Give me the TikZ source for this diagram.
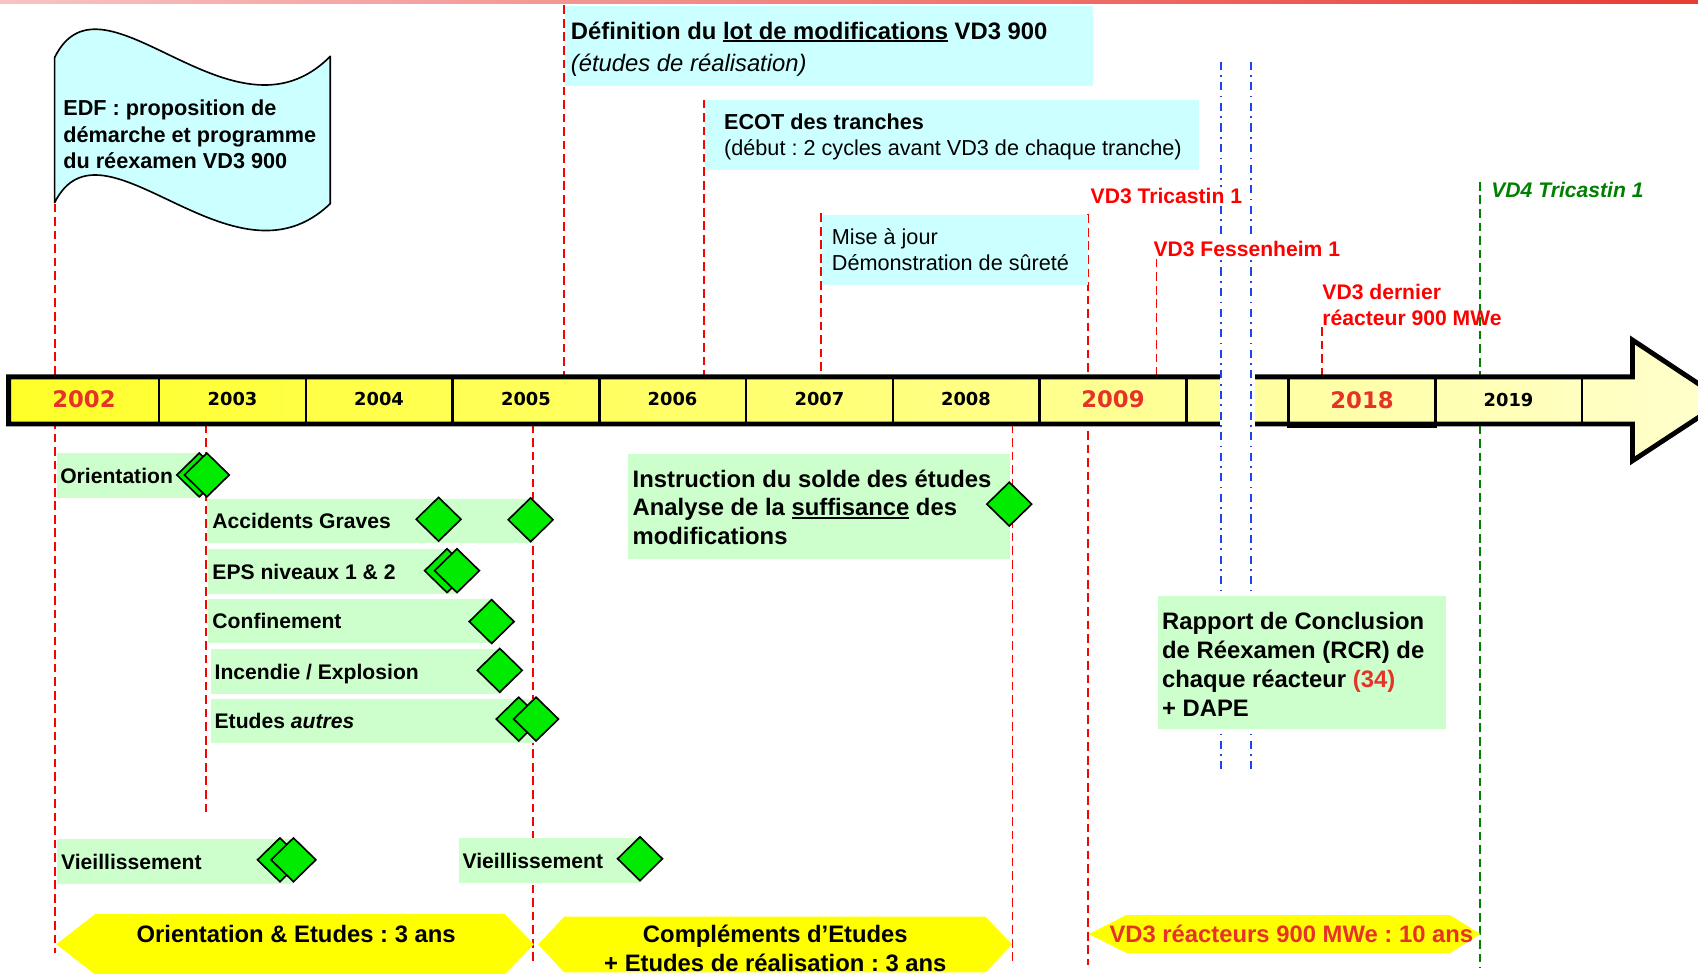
\documentclass[tikz,border=0pt]{standalone}
\usepackage{fontspec}
\setmainfont{Liberation Sans}
\newfontfamily\yearfont{DejaVu Sans}
\usetikzlibrary{shapes.geometric}
\definecolor{cyanfill}{RGB}{204,255,255}
\definecolor{greenfill}{RGB}{204,255,204}
\definecolor{mile}{RGB}{0,235,0}
\definecolor{lblred}{RGB}{255,0,0}
\definecolor{yrred}{RGB}{230,50,40}
\definecolor{vdgreen}{RGB}{0,128,0}
\definecolor{lineblue}{RGB}{30,70,230}
\definecolor{baryl}{RGB}{255,255,40}
\definecolor{baryr}{RGB}{255,255,205}
\definecolor{topl}{RGB}{248,195,195}
\definecolor{topr}{RGB}{232,60,50}
\definecolor{arrowyel}{RGB}{255,255,0}
\newcommand\fsz[2]{\fontsize{#1}{#2}\selectfont}
\newcommand\thickul[1]{\setbox0\hbox{#1}\rlap{\rule[-2.6pt]{\wd0}{1.8pt}}\box0\relax}
\frenchspacing
\begin{document}
\frenchspacing
\begin{tikzpicture}[x=1pt,y=-1pt,
  redline/.style={draw=lblred, line width=1.6pt, dash pattern=on 8pt off 4.5pt},
  greenline/.style={draw=vdgreen, line width=1.6pt, dash pattern=on 8pt off 4.5pt},
  blueline/.style={draw=lineblue, line width=1.8pt, dash pattern=on 7.5pt off 5pt on 1.5pt off 5pt},
  cyanbox/.style={fill=cyanfill, anchor=north west, inner sep=0pt},
  greenbox/.style={fill=greenfill, anchor=north west, inner sep=0pt},
  boxtext/.style={anchor=west, align=left, inner sep=0pt},
  tagtext/.style={anchor=west, inner sep=0pt, font=\fsz{19.5}{23}\bfseries, text height=14pt, text depth=0pt},
  milestone/.style={diamond, draw=black, line width=1.5pt, fill=mile, minimum width=42pt, minimum height=41pt, inner sep=0pt},
  yearlbl/.style={font=\yearfont\bfseries\fsz{16.5}{18}, inner sep=0pt},
  bigyear/.style={font=\yearfont\bfseries\fsz{21}{24}, text=yrred, inner sep=0pt},
  vdlabel/.style={font=\fsz{19.5}{24}\bfseries, text=lblred, anchor=west, inner sep=1pt, text height=14pt, text depth=0pt},
  spantext/.style={font=\fsz{22}{26}\bfseries, inner sep=0pt, text height=15.8pt, text depth=0pt}
]
\useasboundingbox (0,0) rectangle (1568,899);
\clip (0,0) rectangle (1568,899);
% top gradient rule
\shade[left color=topl,right color=topr] (0,0) rectangle (1568,2.8);

% vertical guide lines
\coordinate (l51a) at (51,188);     \coordinate (l51b) at (51,880);
\coordinate (l521a) at (521,5);     \coordinate (l521b) at (521,347);
\coordinate (l650a) at (650,92);    \coordinate (l650b) at (650,347);
\coordinate (l758a) at (758,197);   \coordinate (l758b) at (758,347);
\coordinate (l1005a) at (1005,198); \coordinate (l1005b) at (1005,891);
\coordinate (l1068a) at (1068,239); \coordinate (l1068b) at (1068,347);
\coordinate (l1221a) at (1221,302); \coordinate (l1221b) at (1221,347);
\coordinate (l190a) at (190,392);   \coordinate (l190b) at (190,750);
\coordinate (l492a) at (492,392);   \coordinate (l492b) at (492,887);
\coordinate (l935a) at (935,392);   \coordinate (l935b) at (935,888);
\coordinate (g1a) at (1367,168);    \coordinate (g1b) at (1367,894);
\coordinate (b1a) at (1127.5,57);   \coordinate (b1b) at (1127.5,713);
\coordinate (b2a) at (1155,57);     \coordinate (b2b) at (1155,713);
\foreach \p in {l51,l521,l650,l758,l1005,l1068,l1221,l190,l492,l935}
  \draw[redline] (\p a) -- (\p b);
\draw[greenline] (g1a) -- (g1b);

% wave flag
\draw[fill=cyanfill, line width=1.5pt, line join=round]
  (50.5,53) .. controls (95,-37) and (215,143) .. (305,52)
  -- (305,188) .. controls (215,275) and (95,99) .. (50.5,187) -- cycle;
\node[boxtext, font=\fsz{20}{24.5}\bfseries] (flagtxt) at (58.3,124.4)
  {EDF : proposition de\\d\'emarche et programme\\du r\'eexamen VD3 900};

% cyan boxes
\node[cyanbox, minimum width=488pt, minimum height=73.5pt] (def) at (521.5,5.5) {};
\node[boxtext, font=\fsz{22}{30}] (deftxt) at (527,45.4)
  {\textbf{Définition du \thickul{lot de modifications} VD3 900}\\\textit{(études de réalisation)}};
\node[cyanbox, minimum width=456.5pt, minimum height=65pt] (ecot) at (650.5,92) {};
\node[boxtext, font=\fsz{20}{24.5}] (ecottxt) at (668.5,126.6)
  {\textbf{ECOT des tranches}\\(début : 2 cycles avant VD3 de chaque tranche)};
\node[cyanbox, minimum width=246pt, minimum height=65pt] (mise) at (758.5,198) {};
\node[boxtext, font=\fsz{20}{24.5}] (misetxt) at (768,230.5)
  {Mise à jour\\Démonstration de sûreté};

% timeline arrow
\path[draw=black, line width=4.5pt, left color=baryl, right color=baryr, line join=miter]
  (8,348) -- (1507.5,348) -- (1507.5,314) -- (1592,370) -- (1507.5,425.5)
  -- (1507.5,391.5) -- (8,391.5) -- cycle;
\foreach \x in {147,282.5,418,553.5,689,824.5,960,1095.5,1190,1325.5,1461}
  \draw[line width=2.2pt] (\x,349) -- (\x,391);
\draw[line width=3pt] (1190,348) rectangle (1325.5,393.5);
\fill[white] (1126.5,340) rectangle (1158.5,400);
\node[bigyear] (y2002) at (77.5,368.5) {2002};
\node[yearlbl] (y2003) at (214.7,368.5) {2003};
\node[yearlbl] (y2004) at (350,368.5) {2004};
\node[yearlbl] (y2005) at (485.7,368.5) {2005};
\node[yearlbl] (y2006) at (621,368.5) {2006};
\node[yearlbl] (y2007) at (756.7,368.5) {2007};
\node[yearlbl] (y2008) at (892,368.5) {2008};
\node[bigyear] (y2009) at (1027.7,368.5) {2009};
\node[bigyear] (y2018) at (1257.7,370) {2018};
\node[yearlbl] (y2019) at (1393,369.5) {2019};

% blue dash-dot lines
\draw[blueline] (b1a) -- (b1b);
\draw[blueline] (b2a) -- (b2b);

% event labels
\node[vdlabel, fill=white] (tric) at (1006,180.5) {VD3 Tricastin 1};
\node[vdlabel, fill=white] (fess) at (1064,230) {VD3 Fessenheim 1};
\node[font=\fsz{19.5}{24}\bfseries, text=lblred, anchor=west, align=left, inner sep=0pt] (dern) at (1221,281.9)
  {VD3 dernier\\réacteur 900 MWe};
\node[font=\fsz{19.5}{24}\bfseries\itshape, text=vdgreen, anchor=west, inner sep=0pt, text height=14pt, text depth=0pt] (vd4) at (1377,175.5) {VD4 Tricastin 1};

% green task boxes
\node[greenbox, minimum width=133.5pt, minimum height=41.5pt] (orient) at (52.5,418.5) {};
\node[tagtext] (orienttxt) at ([xshift=3pt]orient.west) {Orientation};
\node[greenbox, minimum width=302pt, minimum height=41pt] (accid) at (191,460.6) {};
\node[tagtext] (accidtxt) at ([xshift=5pt]accid.west) {Accidents Graves};
\node[greenbox, minimum width=232pt, minimum height=41pt] (eps) at (192,507) {};
\node[tagtext] (epstxt) at ([xshift=4pt]eps.west) {EPS niveaux 1 \& 2};
\node[greenbox, minimum width=264pt, minimum height=41pt] (conf) at (192,553) {};
\node[tagtext] (conftxt) at ([xshift=4pt]conf.west) {Confinement};
\node[greenbox, minimum width=268pt, minimum height=41pt] (incend) at (195,599.5) {};
\node[tagtext] (incendtxt) at ([xshift=3pt]incend.west) {Incendie / Explosion};
\node[greenbox, minimum width=298pt, minimum height=41pt] (etud) at (195,645) {};
\node[tagtext] (etudtxt) at ([xshift=3pt]etud.west) {Etudes \textit{autres}};
\node[greenbox, minimum width=218pt, minimum height=41pt] (vieilL) at (52.7,775) {};
\node[tagtext] (vieilLtxt) at ([xshift=3.5pt]vieilL.west) {Vieillissement};
\node[greenbox, minimum width=167pt, minimum height=41pt] (vieilR) at (424,774) {};
\node[tagtext] (vieilRtxt) at ([xshift=3pt]vieilR.west) {Vieillissement};
\node[greenbox, minimum width=352.5pt, minimum height=97pt] (instr) at (580,418.6) {};
\node[boxtext, font=\fsz{22}{26.7}\bfseries] (instrtxt) at (584,468.5)
  {Instruction du solde des études\\Analyse de la \thickul{suffisance} des\\modifications};
\node[greenbox, minimum width=265.5pt, minimum height=122.6pt] (rcr) at (1069.5,550.4) {};
\node[boxtext, font=\fsz{22}{26.7}\bfseries] (rcrtxt) at (1073,613.5)
  {Rapport de Conclusion\\de Réexamen (RCR) de\\chaque réacteur \textcolor{yrred}{(34)}\\+ DAPE};

% milestones
\node[milestone] (m1a) at (184,438.6) {};
\node[milestone] (m1b) at (191,438.6) {};
\node[milestone] (m2a) at (405,479.5) {};
\node[milestone] (m2b) at (490,480) {};
\node[milestone] (m3a) at (412.8,527) {};
\node[milestone] (m3b) at (422,527) {};
\node[milestone] (m4) at (454,574) {};
\node[milestone] (m5) at (461.5,619) {};
\node[milestone] (m6a) at (479,664) {};
\node[milestone] (m6b) at (495,664) {};
\node[milestone] (m7) at (932,465.5) {};
\node[milestone] (m8a) at (258.5,794) {};
\node[milestone] (m8b) at (271,794) {};
\node[milestone] (m9) at (591,793) {};

% phase arrows
\fill[arrowyel] (52,872) -- (88,844) -- (466,844) -- (493,872) -- (466,900) -- (88,900) -- cycle;
\node[spantext] (phase1) at (273.5,862.5) {Orientation \& Etudes : 3 ans};
\fill[arrowyel] (497,872) -- (521,846.5) -- (910,846.5) -- (934.5,872) -- (910,898) -- (521,898) -- cycle;
\node[font=\fsz{22}{26}\bfseries, align=center, inner sep=0pt] (phase2) at (716,875.8)
  {Compléments d’Etudes\\+ Etudes de réalisation : 3 ans};
\fill[arrowyel] (1005.5,862.5) -- (1040,845) -- (1339,845) -- (1367,862.5) -- (1339,880) -- (1040,880) -- cycle;
\node[spantext, text=yrred] (phase3) at (1192.5,862.5) {VD3 réacteurs 900 MWe : 10 ans};
\end{tikzpicture}
\end{document}
